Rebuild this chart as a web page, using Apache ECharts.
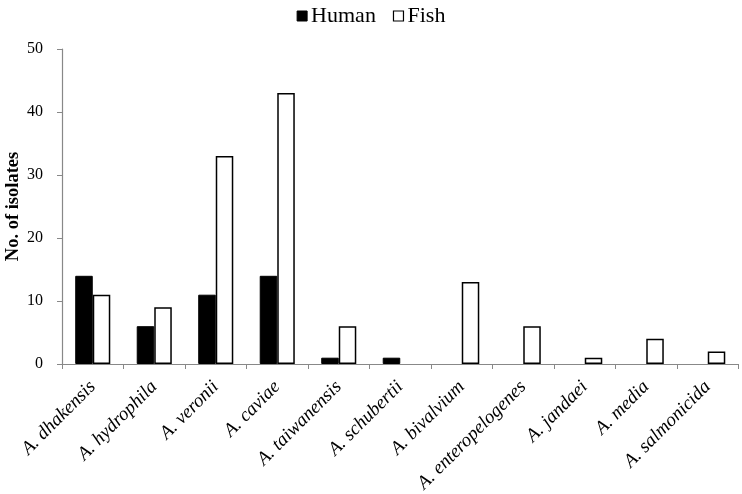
<!DOCTYPE html>
<html>
<head>
<meta charset="utf-8">
<script src="https://cdn.jsdelivr.net/npm/echarts@6/dist/echarts.min.js"></script>
<style>html,body{margin:0;padding:0;background:#fff;}#c{width:742px;height:494px;}</style>
</head>
<body>
<div id="c"></div>
<script>
var categories = ['A. dhakensis','A. hydrophila','A. veronii','A. caviae','A. taiwanensis','A. schubertii','A. bivalvium','A. enteropelogenes','A. jandaei','A. media','A. salmonicida'];
var humanValues = [14, 6, 11, 14, 1, 1, 0, 0, 0, 0, 0];
var fishValues = [11, 9, 33, 43, 6, 0, 13, 6, 1, 4, 2];
var yTicks = [0, 10, 20, 30, 40, 50];

function nonZero(arr) { return arr.map(function (v) { return v === 0 ? null : v; }); }

var serif = 'Liberation Serif';
var chart = echarts.init(document.getElementById('c'));
chart.setOption({
  animation: false,
  backgroundColor: '#fff',
  legend: {
    top: 0, left: 'center',
    itemWidth: 10, itemHeight: 10, itemGap: 17,
    textStyle: { fontFamily: serif, fontSize: 22, color: '#000', padding: [0,0,0,-1] },
    data: [
      { name: 'Human', icon: 'rect', itemStyle: { color: '#000', borderColor: '#000', borderWidth: 1 } },
      { name: 'Fish', icon: 'rect', itemStyle: { color: '#fff', borderColor: '#000', borderWidth: 1.2 } }
    ]
  },
  grid: { left: 62, right: 3.5, top: 49, bottom: 130, containLabel: false, outerBoundsMode: 'none' },
  xAxis: {
    type: 'category',
    data: categories,
    axisLine: { lineStyle: { color: '#888', width: 1.2 } },
    axisTick: { show: true, length: 5, interval: 0, lineStyle: { color: '#888' } },
    axisLabel: {
      interval: 0, rotate: 45, margin: 20,
      fontFamily: serif, fontStyle: 'italic', fontSize: 19, color: '#000'
    }
  },
  yAxis: {
    type: 'value',
    min: yTicks[0], max: yTicks[yTicks.length-1], interval: 10,
    name: 'No. of isolates',
    nameLocation: 'middle', nameRotate: 90, nameGap: 39, nameMoveOverlap: false,
    nameTextStyle: { fontFamily: serif, fontWeight: 'bold', fontSize: 18.5, color: '#000' },
    axisLine: { show: true, lineStyle: { color: '#888', width: 1.2 } },
    axisTick: { show: true, length: 5, lineStyle: { color: '#888' } },
    axisLabel: { fontFamily: serif, fontSize: 16, color: '#000', margin: 19 },
    splitLine: { show: false }
  },
  series: [
    { name: 'Human', type: 'bar', data: nonZero(humanValues), barGap: '0%', barCategoryGap: '43%',
      itemStyle: { color: '#000', borderColor: '#000', borderWidth: 1 } },
    { name: 'Fish', type: 'bar', data: nonZero(fishValues),
      itemStyle: { color: '#fff', borderColor: '#000', borderWidth: 1.5 } }
  ]
});
</script>
</body>
</html>
